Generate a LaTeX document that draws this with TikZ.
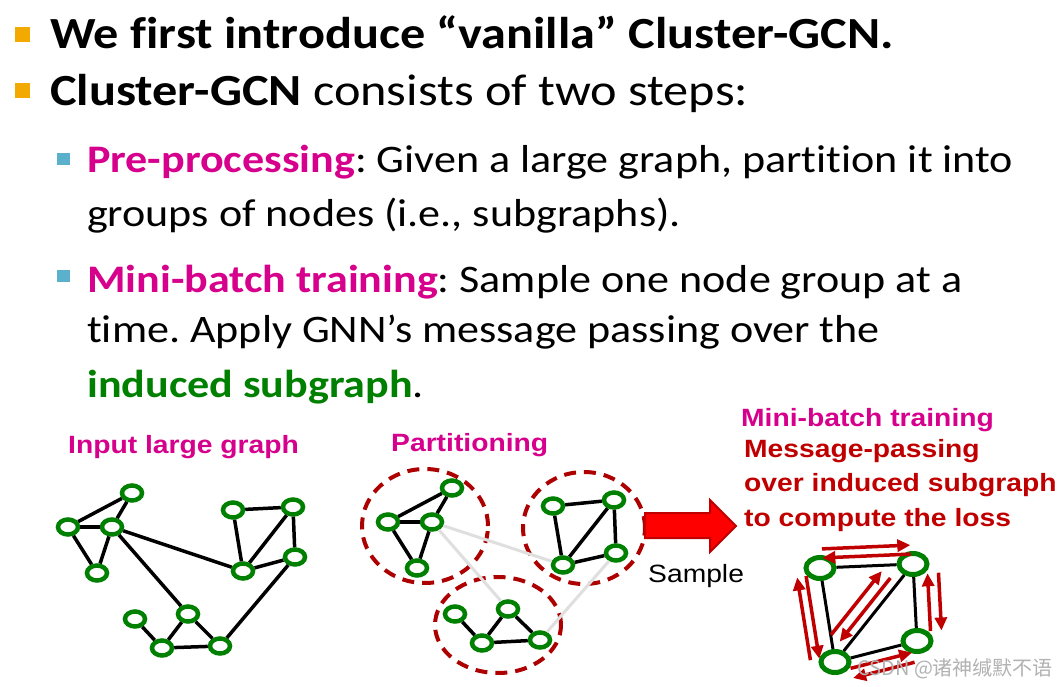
\documentclass[tikz,border=0pt]{standalone}
\usepackage{fontspec}
\setmainfont[FakeStretch=1.13, Ligatures=NoCommon]{Carlito}
\newfontfamily\arialfont[FakeStretch=1.13]{Liberation Sans}
\newfontfamily\cjkfont{Noto Sans CJK SC}
\usetikzlibrary{shapes.geometric,arrows.meta,calc}
\frenchspacing

\definecolor{bulletorange}{RGB}{242,169,0}
\definecolor{bulletblue}{RGB}{91,176,204}
\definecolor{keymagenta}{RGB}{214,0,140}
\definecolor{keygreen}{RGB}{0,128,0}
\definecolor{darkred}{RGB}{192,0,0}
\definecolor{ringgreen}{RGB}{0,128,0}

% two opposite messages along the edge u--v, on its left side
\newcommand{\msgpair}[6]{%
  \draw[msg] ($(#1)!#3!(#2)!#5!90:(#2)$) -- ($(#1)!#4!(#2)!#5!90:(#2)$);
  \draw[msg] ($(#1)!#4!(#2)!#6!90:(#2)$) -- ($(#1)!#3!(#2)!#6!90:(#2)$);
}

\begin{document}
\begin{tikzpicture}[x=1pt, y=-1pt,
    big/.style={anchor=base west, inner sep=0, font=\fontsize{44.5}{44.5}\selectfont},
    small/.style={anchor=base west, inner sep=0, font=\fontsize{39}{39}\selectfont},
    label/.style={anchor=base west, inner sep=0, font=\arialfont\bfseries\fontsize{25}{25}\selectfont},
    gnode/.style={ellipse, draw=ringgreen, fill=white, line width=4.5pt, minimum width=20pt, minimum height=15pt, inner sep=0},
    bignode/.style={gnode, line width=5pt, minimum width=28pt, minimum height=21pt},
    edge/.style={line width=3.5pt},
    cut/.style={line width=3pt, gray!25},
    part/.style={ellipse, draw=darkred!90!black, line width=4pt, dash pattern=on 12pt off 8pt, inner sep=0},
    msg/.style={darkred, line width=3.5pt, -{Triangle[length=13pt, width=12pt]}}]
  \fill[white] (0,0) rectangle (1063,687);
  \useasboundingbox (0,0) rectangle (1063,687);

  % bullets and text
  \node[fill=bulletorange, minimum size=15pt, inner sep=0] (dot1) at (22.5,34.5) {};
  \node[fill=bulletorange, minimum size=15pt, inner sep=0] (dot2) at (22.5,90.5) {};
  \node[fill=bulletblue, minimum width=13pt, minimum height=12pt, inner sep=0] (dot3) at (63.5,159) {};
  \node[fill=bulletblue, minimum width=13pt, minimum height=12pt, inner sep=0] (dot4) at (63.5,275.5) {};
  \node[big] (line1) at (50,49) {\bfseries We first introduce “vanilla” Cluster-GCN.};
  \node[big] (line2) at (50,106) {{\bfseries Cluster-GCN} consists of two steps:};
  \node[small] (line3) at (87,173) {\textcolor{keymagenta}{\bfseries Pre-processing}: Given a large graph, partition it into};
  \node[small] (line4) at (87,227) {groups of nodes (i.e., subgraphs).};
  \node[small] (line5) at (87,292) {\textcolor{keymagenta}{\bfseries Mini-batch training}: Sample one node group at a};
  \node[small] (line6) at (87,342) {time. Apply GNN’s message passing over the};
  \node[small] (line7) at (87,397) {\textcolor{keygreen}{\bfseries induced subgraph}.};

  % input large graph
  \node[label, text=keymagenta] (inlbl) at (68,453) {Input large graph};
  \node[gnode] (in1) at (132,493) {};
  \node[gnode] (in2) at (68,527) {};
  \node[gnode] (in3) at (112,527) {};
  \node[gnode] (in4) at (97,573) {};
  \node[gnode] (in5) at (233,510) {};
  \node[gnode] (in6) at (293,507) {};
  \node[gnode] (in7) at (295,557) {};
  \node[gnode] (in8) at (243,571) {};
  \node[gnode] (in9) at (135,619) {};
  \node[gnode] (in10) at (188,614) {};
  \node[gnode] (in11) at (162,648) {};
  \node[gnode] (in12) at (220,646) {};
  \foreach \a/\b in {in2/in1, in2/in3, in3/in1, in2/in4, in3/in4, in3/in8, in3/in10,
      in5/in6, in5/in8, in6/in8, in6/in7, in7/in8, in7/in12, in9/in11, in11/in10, in10/in12, in11/in12}
    \draw[edge] (\a) -- (\b);

  % partitioning
  \node[label, text=keymagenta] (partlbl) at (391,451) {Partitioning};
  \node[part, minimum width=126pt, minimum height=114pt] (clusterA) at (425,526) {};
  \node[part, minimum width=122pt, minimum height=112pt] (clusterB) at (584,528) {};
  \node[part, minimum width=126pt, minimum height=96pt] (clusterC) at (498,625) {};
  \node[gnode] (pa1) at (452,488) {};
  \node[gnode] (pa2) at (388,522) {};
  \node[gnode] (pa3) at (432,522) {};
  \node[gnode] (pa4) at (417,568) {};
  \node[gnode] (pb1) at (553,506) {};
  \node[gnode] (pb2) at (614,500) {};
  \node[gnode] (pb3) at (616,553) {};
  \node[gnode] (pb4) at (563,565) {};
  \node[gnode] (pc1) at (455,614) {};
  \node[gnode] (pc2) at (508,609) {};
  \node[gnode] (pc3) at (482,643) {};
  \node[gnode] (pc4) at (540,640) {};
  \foreach \a/\b in {pa3/pb4, pa3/pc2, pb3/pc4}
    \draw[cut] (\a) -- (\b);
  \foreach \a/\b in {pa2/pa1, pa2/pa3, pa3/pa1, pa2/pa4, pa3/pa4,
      pb1/pb2, pb1/pb4, pb2/pb4, pb2/pb3, pb3/pb4, pc1/pc3, pc3/pc2, pc2/pc4, pc3/pc4}
    \draw[edge] (\a) -- (\b);

  % sample arrow
  \filldraw[fill=red, draw=darkred, line width=2pt] (645,513) -- (710,513) -- (710,500) -- (736,526)
    -- (710,552) -- (710,538) -- (645,538) -- cycle;
  \node[anchor=base west, inner sep=0, font=\arialfont\fontsize{25}{25}\selectfont] (samplelbl) at (648,582) {Sample};

  % mini-batch training
  \node[label, text=keymagenta] (minilbl) at (741,426) {Mini-batch training};
  \node[label, text=darkred] (msglbl1) at (744,457) {Message-passing};
  \node[label, text=darkred] (msglbl2) at (744,491) {over induced subgraph};
  \node[label, text=darkred] (msglbl3) at (744,526) {to compute the loss};
  \node[bignode] (m1) at (820,568) {};
  \node[bignode] (m2) at (913,564) {};
  \node[bignode] (m3) at (917,641) {};
  \node[bignode] (m4) at (835,662) {};
  \foreach \a/\b in {m1/m2, m1/m4, m2/m4, m2/m3, m3/m4}
    \draw[line width=3pt] (\a) -- (\b);
  \msgpair{m1}{m2}{.03}{.98}{19pt}{10pt}
  \msgpair{m4}{m1}{.06}{.94}{24pt}{15pt}
  \msgpair{m4}{m2}{.15}{.8}{20pt}{9pt}
  \msgpair{m2}{m3}{.13}{.88}{25pt}{14pt}
  \msgpair{m3}{m4}{.09}{.84}{20pt}{10pt}

  \node[anchor=base west, inner sep=0, text=gray!60, font=\cjkfont\fontsize{20}{20}\selectfont] (mark) at (857,675) {CSDN @诸神缄默不语};
\end{tikzpicture}
\end{document}
